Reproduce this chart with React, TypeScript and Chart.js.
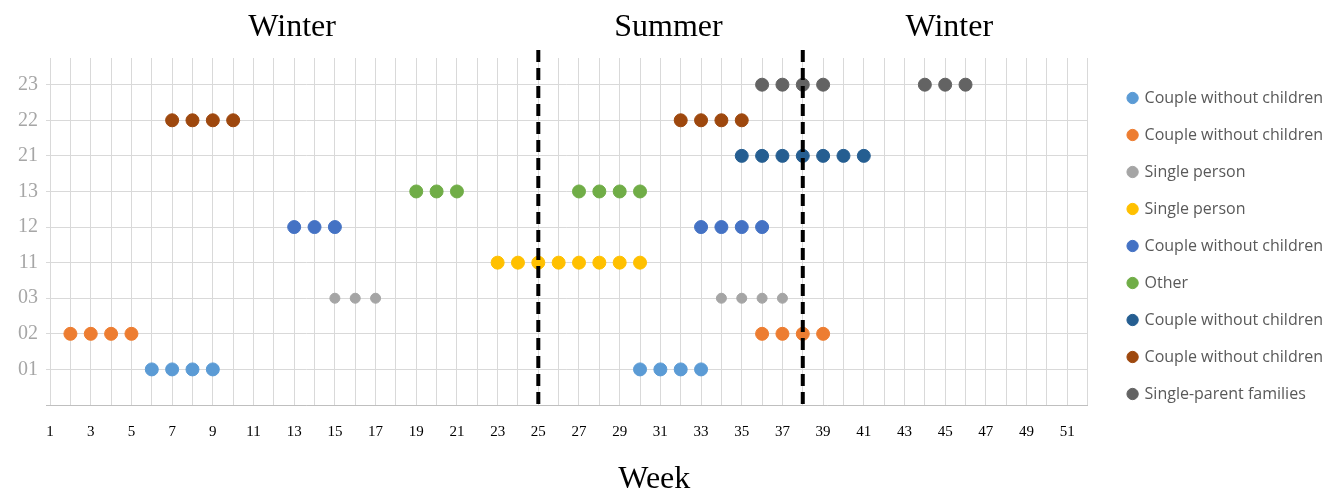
import { useEffect, useRef } from "react"
import { Chart, registerables } from "chart.js"

Chart.register(...registerables)

const rowLabels = ["", "01", "02", "03", "11", "12", "13", "21", "22", "23"]
const seriesNames = [
  "Couple without children",
  "Couple without children",
  "Single person",
  "Single person",
  "Couple without children",
  "Other",
  "Couple without children",
  "Couple without children",
  "Single-parent families",
]
const seriesColors = ["#5B9BD5", "#ED7D31", "#A5A5A5", "#FFC000", "#4472C4", "#70AD47", "#255E91", "#9E480E", "#636363"]
const seriesRows = ["01", "02", "03", "11", "12", "13", "21", "22", "23"]
const seriesWeeks = [
  [6, 7, 8, 9, 30, 31, 32, 33],
  [2, 3, 4, 5, 36, 37, 38, 39],
  [15, 16, 17, 34, 35, 36, 37],
  [23, 24, 25, 26, 27, 28, 29, 30],
  [13, 14, 15, 33, 34, 35, 36],
  [19, 20, 21, 27, 28, 29, 30],
  [35, 36, 37, 38, 39, 40, 41],
  [7, 8, 9, 10, 32, 33, 34, 35],
  [36, 37, 38, 39, 44, 45, 46],
]
const seasonBreaks = [25, 38]
const seasons = [
  { name: "Winter", week: 12.9 },
  { name: "Summer", week: 31.4 },
  { name: "Winter", week: 45.2 },
]
const axisTitle = { text: "Week", week: 30.7 }

const overlay = {
  id: "overlay",
  afterInit(chart: any) {
    const legend = chart.legend
    if (legend) {
      const fit = legend.fit
      legend.fit = function () {
        fit.call(this)
        this.width += 20
      }
    }
  },
  afterLayout(chart: any) {
    const legend = chart.legend
    if (legend) {
      legend.left += 20
      legend.right += 20
      legend.top += 11
      legend.bottom += 11
    }
  },
  afterDatasetsDraw(chart: Chart) {
    const { ctx, chartArea, scales } = chart
    ctx.save()
    ctx.strokeStyle = "#000"
    ctx.lineWidth = 4
    ctx.setLineDash([12, 6])
    seasonBreaks.forEach((w) => {
      const x = scales.x.getPixelForValue(w)
      ctx.beginPath()
      ctx.moveTo(x, chartArea.top - 8)
      ctx.lineTo(x, chartArea.bottom)
      ctx.stroke()
    })
    ctx.setLineDash([])
    ctx.fillStyle = "#000"
    ctx.font = "32px 'Liberation Serif', serif"
    ctx.textAlign = "center"
    ctx.textBaseline = "middle"
    seasons.forEach((s) => {
      ctx.fillText(s.name, scales.x.getPixelForValue(s.week), 28)
    })
    ctx.fillText(axisTitle.text, scales.x.getPixelForValue(axisTitle.week), 480)
    ctx.restore()
  },
}

export default function App() {
  const canvasRef = useRef<HTMLCanvasElement | null>(null)

  useEffect(() => {
    document.body.style.margin = "0"
    if (!canvasRef.current) return
    const chart = new Chart(canvasRef.current, {
      type: "scatter",
      data: {
        datasets: seriesNames.map((name, i) => ({
          label: name,
          data: seriesWeeks[i].map((w) => ({ x: w, y: rowLabels.indexOf(seriesRows[i]) })),
          backgroundColor: seriesColors[i],
          borderColor: seriesColors[i],
          pointRadius: i === 2 ? 5 : 6.5,
          pointHoverRadius: 7,
        })),
      },
      options: {
        animation: false,
        responsive: false,
        layout: { padding: { top: 58, left: 10, right: 4, bottom: 44 } },
        plugins: {
          tooltip: { enabled: false },
          legend: {
            position: "right",
            align: "start",
            labels: {
              usePointStyle: true,
              pointStyle: "circle",
              boxWidth: 8,
              boxHeight: 8,
              padding: 21,
              color: "#595959",
              font: { size: 16, family: "'Open Sans', sans-serif" },
            },
          },
        },
        scales: {
          x: {
            type: "linear",
            min: 0.8,
            max: 52,
            afterBuildTicks: (axis) => {
              axis.ticks = Array.from({ length: 52 }, (_, i) => ({ value: i + 1 }))
            },
            ticks: {
              autoSkip: false,
              maxRotation: 0,
              color: "#000",
              font: { size: 15, family: "'Liberation Serif', serif" },
              padding: 18,
              callback: (v) => (Number(v) % 2 === 1 ? String(v) : ""),
            },
            grid: { color: "#d9d9d9", drawTicks: false },
            border: { color: "#bfbfbf" },
          },
          y: {
            type: "linear",
            min: 0,
            max: 9.75,
            afterBuildTicks: (axis) => {
              axis.ticks = Array.from({ length: 10 }, (_, i) => ({ value: i }))
            },
            ticks: {
              color: "#a6a6a6",
              font: { size: 20, family: "'Liberation Serif', serif" },
              padding: 8,
              callback: (v) => rowLabels[Number(v)] ?? "",
            },
            grid: { color: "#d9d9d9", drawTicks: false },
            border: { display: false },
          },
        },
      },
      plugins: [overlay],
    })
    return () => chart.destroy()
  }, [])

  return <canvas ref={canvasRef} width={1337} height={503} style={{ display: "block" }} />
}
